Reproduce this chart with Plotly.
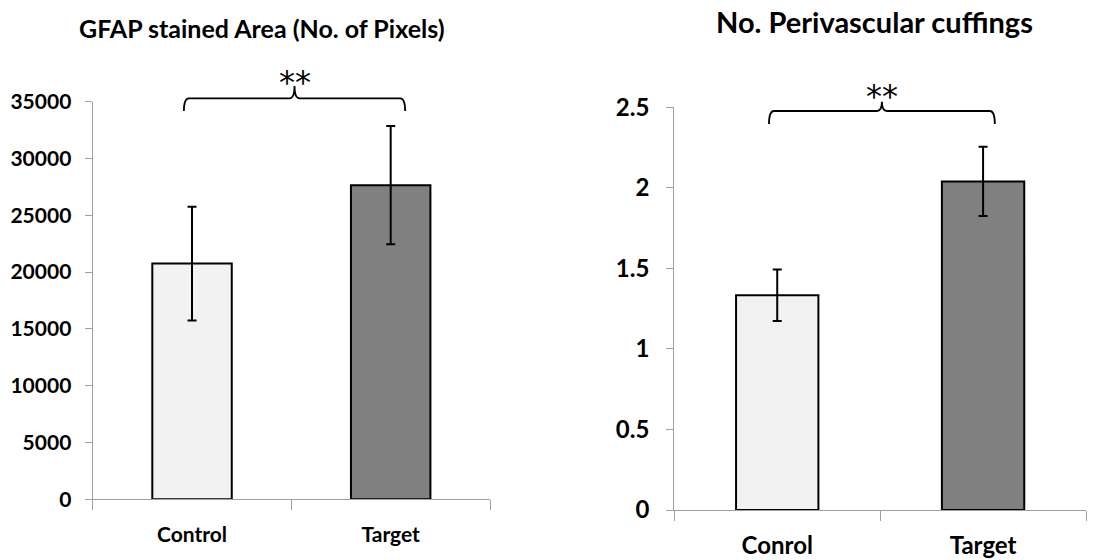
import plotly.graph_objects as go

# ---- data ----
left_title = "GFAP stained Area (No. of Pixels)"
left_categories = ["Control", "Target"]
left_values = [20750, 27650]
left_errors = [5000, 5200]
left_yticks = [0, 5000, 10000, 15000, 20000, 25000, 30000, 35000]
left_ytick_text = ["0", "5000", "10000", "15000", "20000", "25000", "30000", "35000"]

right_title = "No. Perivascular cuffings"
right_categories = ["Conrol", "Target"]
right_values = [1.333, 2.04]
right_errors = [0.16, 0.215]
right_yticks = [0, 0.5, 1, 1.5, 2, 2.5]
right_ytick_text = ["0", "0.5", "1", "1.5", "2", "2.5"]

bar_colors = ["#f2f2f2", "#808080"]
sig_label = "**"

W, H = 1107, 560
FONT = "Lato"

# layout geometry (paper fractions)
L_XDOM = [92.7 / W, 490.0 / W]
L_YDOM = [1 - 499.3 / H, 1 - 101.7 / H]
R_XDOM = [674.3 / W, 1086.0 / W]
R_YDOM = [1 - 510.0 / H, 1 - 107.3 / H]

fig = go.Figure()

for cats, vals, errs, xa, ya in [
    (left_categories, left_values, left_errors, "x", "y"),
    (right_categories, right_values, right_errors, "x2", "y2"),
]:
    fig.add_trace(go.Bar(
        x=cats, y=vals, xaxis=xa, yaxis=ya,
        width=0.4,
        marker=dict(color=bar_colors, line=dict(color="#000000", width=2)),
        error_y=dict(type="data", array=errs, visible=True,
                     color="#000000", thickness=2, width=4.5),
        showlegend=False,
        hoverinfo="x+y",
    ))


def axis_common(size):
    return dict(
        showgrid=False, zeroline=False, showline=True, automargin=False,
        linecolor="#a0a0a0", linewidth=1.3,
        ticks="outside", tickcolor="#a0a0a0", tickwidth=1.3,
        tickfont=dict(family=FONT, size=size, color="#000000", weight="bold"),
        fixedrange=True,
    )


fig.update_layout(
    width=W, height=H,
    margin=dict(l=0, r=0, t=0, b=0),
    paper_bgcolor="white", plot_bgcolor="white",
    bargap=0.6,
    xaxis=dict(domain=L_XDOM, anchor="y", type="category", range=[-0.5, 1.5],
               tickson="boundaries", ticklen=10, ticklabelstandoff=16, **axis_common(21)),
    yaxis=dict(domain=L_YDOM, anchor="x", range=[0, 35000],
               tickvals=left_yticks, ticktext=left_ytick_text,
               ticklen=7, ticklabelstandoff=9, **axis_common(21)),
    xaxis2=dict(domain=R_XDOM, anchor="y2", type="category", range=[-0.5, 1.5],
                tickson="boundaries", ticklen=10, ticklabelstandoff=14, **axis_common(24)),
    yaxis2=dict(domain=R_YDOM, anchor="x2", range=[0, 2.5],
                tickvals=right_yticks, ticktext=right_ytick_text,
                ticklen=7, ticklabelstandoff=12, **axis_common(24)),
)


def cat_to_paper(pos, dom):
    # category index position (range -0.5..1.5) -> paper x
    return dom[0] + (pos + 0.5) / 2.0 * (dom[1] - dom[0])


def add_brace(xdom, x0pos, x1pos, y_line_px, y_end_px, y_tip_px, star_y_px):
    x0 = cat_to_paper(x0pos, xdom)
    x1 = cat_to_paper(x1pos, xdom)
    xc = (x0 + x1) / 2
    yl = 1 - y_line_px / H
    ye = 1 - y_end_px / H
    yt = 1 - y_tip_px / H
    rx = 5.0 / W
    path = (f"M {x0},{ye} Q {x0},{yl} {x0 + rx},{yl} "
            f"L {xc - rx},{yl} Q {xc},{yl} {xc},{yt} "
            f"Q {xc},{yl} {xc + rx},{yl} "
            f"L {x1 - rx},{yl} Q {x1},{yl} {x1},{ye}")
    fig.add_shape(type="path", path=path, xref="paper", yref="paper",
                  line=dict(color="#000000", width=1.8))
    fig.add_annotation(x=xc, y=1 - star_y_px / H, xref="paper", yref="paper",
                       text=sig_label, showarrow=False,
                       font=dict(family="DejaVu Sans", size=32, color="#000000"),
                       xanchor="center", yanchor="middle")


add_brace(L_XDOM, -0.041, 1.073, 98.3, 111.0, 86.0, 82.0)
add_brace(R_XDOM, -0.04, 1.057, 111.0, 124.0, 101.7, 96.0)

# titles
fig.add_annotation(x=262 / W, y=1 - 28 / H,
                   xref="paper", yref="paper", text=left_title, showarrow=False,
                   font=dict(family=FONT, size=25, color="#000000", weight="bold"),
                   xanchor="center", yanchor="middle")
fig.add_annotation(x=874 / W, y=1 - 22 / H,
                   xref="paper", yref="paper", text=right_title, showarrow=False,
                   font=dict(family=FONT, size=29, color="#000000", weight="bold"),
                   xanchor="center", yanchor="middle")

fig.write_html("out.html")
